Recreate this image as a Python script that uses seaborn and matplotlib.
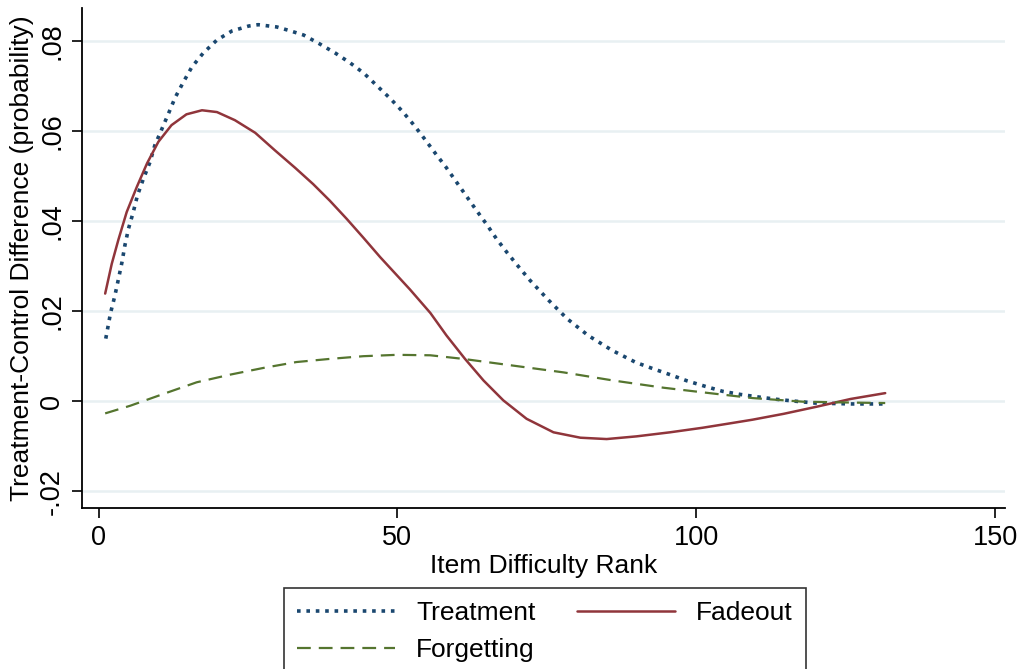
import matplotlib
matplotlib.use("Agg")
import matplotlib.pyplot as plt
import seaborn as sns

# ---- data ----
treat_x = [1.2, 2.0, 2.7, 3.3, 3.9, 4.4, 5.0, 5.8, 6.5, 7.5, 8.6, 9.4, 10.6, 11.7,
           12.8, 14.2, 15.6, 17.5, 19.8, 22.3, 25.1, 26.7, 29.8, 31.9, 34.3, 36.9,
           39.6, 42.1, 44.4, 46.6, 48.8, 50.8, 52.7, 54.5, 56.3, 58.1, 59.8, 61.5,
           63.2, 64.9, 66.6, 68.4, 70.3, 72.2, 75.3, 78.4, 81.9, 85.9, 89.9, 92.8,
           95.6, 98.5, 101.5, 104.4, 107.4, 110.6, 113.6, 116.6, 119.8, 122.8,
           125.9, 129.0, 131.3]
treat_y = [0.0139, 0.0196, 0.0233, 0.0270, 0.0308, 0.0346, 0.0383, 0.0420, 0.0457,
           0.0494, 0.0531, 0.0568, 0.0605, 0.0639, 0.0674, 0.0709, 0.0742, 0.0773,
           0.0802, 0.0822, 0.0833, 0.0836, 0.0831, 0.0823, 0.0813, 0.0794, 0.0773,
           0.0751, 0.0728, 0.0700, 0.0672, 0.0644, 0.0614, 0.0583, 0.0551, 0.0520,
           0.0488, 0.0456, 0.0424, 0.0393, 0.0360, 0.0329, 0.0298, 0.0268, 0.0224,
           0.0183, 0.0146, 0.0113, 0.0086, 0.0072, 0.0059, 0.0045, 0.0033, 0.0022,
           0.0015, 0.0009, 0.0004, 0.0000, -0.0004, -0.0005, -0.0006, -0.0006,
           -0.0006]

fade_x = [1.1, 2.2, 3.3, 4.7, 6.4, 8.1, 10.0, 12.2, 14.7, 17.3, 19.8, 22.8, 26.2,
          29.5, 32.9, 35.9, 38.7, 41.5, 44.3, 47.1, 52.1, 55.5, 58.2, 61.3, 64.4,
          67.7, 71.6, 76.1, 80.6, 85.0, 90.0, 95.6, 101.0, 105.7, 109.4, 114.6,
          120.2, 125.8, 131.6]
fade_y = [0.0239, 0.0305, 0.0358, 0.0420, 0.0476, 0.0528, 0.0576, 0.0613, 0.0637,
          0.0646, 0.0642, 0.0624, 0.0596, 0.0557, 0.0518, 0.0482, 0.0445, 0.0405,
          0.0363, 0.0320, 0.0248, 0.0196, 0.0146, 0.0094, 0.0046, 0.0002, -0.0039,
          -0.0069, -0.0081, -0.0084, -0.0078, -0.0069, -0.0059, -0.0049, -0.0041,
          -0.0028, -0.0012, 0.0005, 0.0018]

forget_x = [1.1, 5.3, 10.8, 16.4, 22.0, 27.6, 33.1, 38.7, 44.3, 49.9, 55.5, 61.0,
            69.4, 77.8, 86.1, 94.5, 100.9, 109.4, 117.8, 126.1, 131.6]
forget_y = [-0.0027, -0.0010, 0.0016, 0.0042, 0.0059, 0.0074, 0.0087, 0.0094,
            0.0100, 0.0103, 0.0102, 0.0094, 0.0079, 0.0064, 0.0046, 0.0030, 0.0020,
            0.0007, -0.0001, -0.0003, -0.0004]

y_ticks = [-0.02, 0, 0.02, 0.04, 0.06, 0.08]
y_tick_labels = ["-.02", "0", ".02", ".04", ".06", ".08"]
x_ticks = [0, 50, 100, 150]
x_tick_labels = ["0", "50", "100", "150"]

labels = ["Treatment", "Fadeout", "Forgetting"]

# ---- style ----
sns.set_theme(style="white")
plt.rcParams["font.family"] = ["Liberation Sans", "DejaVu Sans"]

NAVY = "#1a476f"
MAROON = "#90353b"
GREEN = "#55752f"
GRID = "#e8f0f2"

fig = plt.figure(figsize=(10.18, 6.69), dpi=100)
ax = fig.add_axes([0.081, 0.2407, 0.906, 0.7473])

sns.lineplot(x=treat_x, y=treat_y, ax=ax, color=NAVY, linewidth=2.6,
             label=labels[0], sort=False, estimator=None)
sns.lineplot(x=fade_x, y=fade_y, ax=ax, color=MAROON, linewidth=1.8,
             label=labels[1], sort=False, estimator=None)
sns.lineplot(x=forget_x, y=forget_y, ax=ax, color=GREEN, linewidth=1.6,
             label=labels[2], sort=False, estimator=None)

lines = ax.get_lines()
lines[0].set_linestyle((0, (1, 1.6)))
lines[0].set_dash_capstyle("butt")
lines[2].set_linestyle((0, (6.2, 3.6)))

ax.set_xlim(-2.7, 151.6)
ax.set_ylim(-0.0237, 0.0873)

ax.set_yticks(y_ticks)
ax.set_yticklabels(y_tick_labels, rotation=90, va="center")
ax.set_xticks(x_ticks)
ax.set_xticklabels(x_tick_labels)

for yv in y_ticks:
    ax.axhline(yv, color=GRID, linewidth=1.8, zorder=0)

for s in ["top", "right"]:
    ax.spines[s].set_visible(False)
for s in ["left", "bottom"]:
    ax.spines[s].set_color("black")
    ax.spines[s].set_linewidth(1.3)

ax.tick_params(axis="both", which="major", direction="out", length=7.5, width=1.2,
               color="black", labelsize=19.5, labelcolor="black", pad=5,
               left=True, bottom=True)

ax.set_xlabel("Item Difficulty Rank", fontsize=19, color="black", labelpad=2)
ax.set_ylabel("Treatment-Control Difference (probability)", fontsize=19,
              color="black", labelpad=4)

ax.get_legend().remove()
h = ax.get_lines()
handles = [h[0], h[2], h[1]]
leg_labels = [labels[0], labels[2], labels[1]]
leg = fig.legend(handles, leg_labels, ncol=2, loc="upper left",
                 bbox_to_anchor=(284 / 1018, 1 - 588 / 669 - 0.01, 522 / 1018, 0.01),
                 mode="expand", frameon=True, fancybox=False, fontsize=19,
                 handlelength=3.7, handletextpad=0.8, labelspacing=0.5,
                 borderpad=0.5, borderaxespad=0, columnspacing=1.5,
                 labelcolor="black")
frame = leg.get_frame()
frame.set_edgecolor("black")
frame.set_linewidth(1.2)
frame.set_facecolor("white")

fig.savefig("out.png", dpi=100, facecolor="white")
